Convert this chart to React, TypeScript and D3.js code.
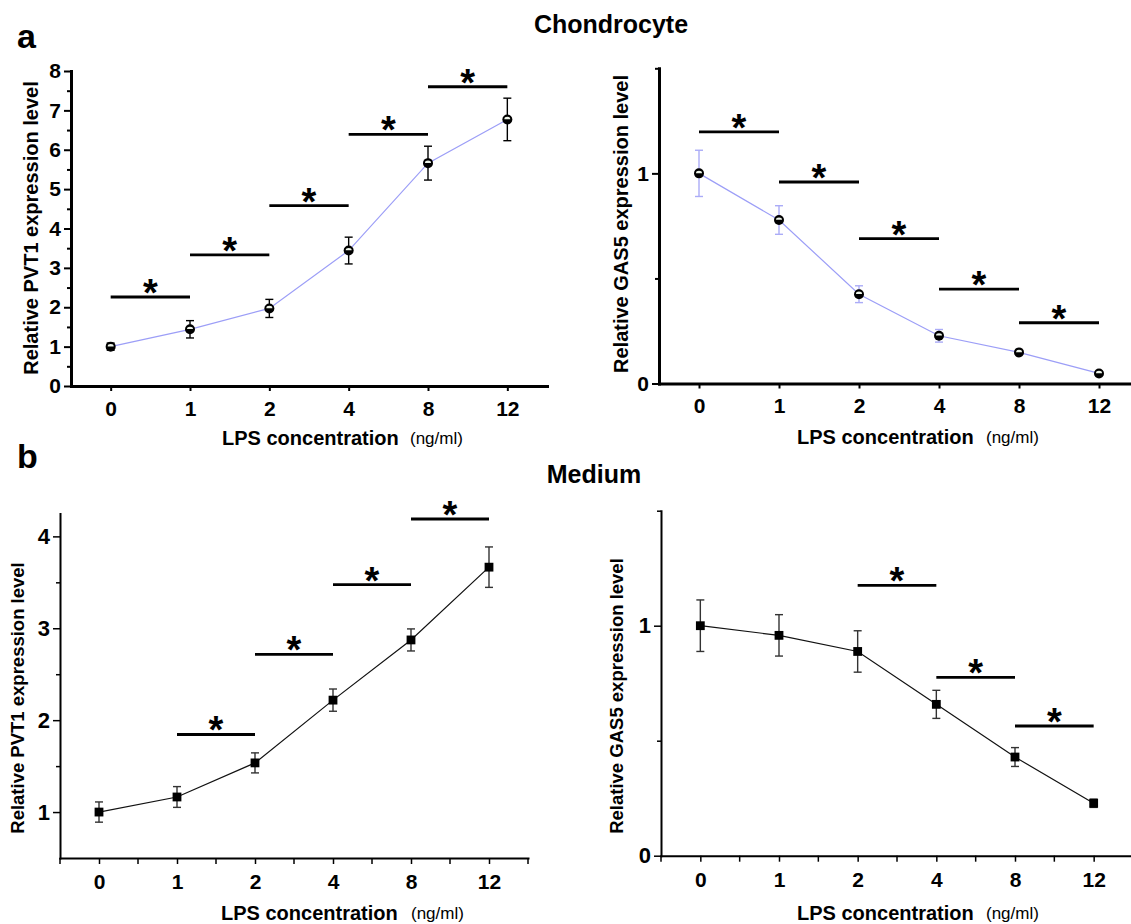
import React, { useEffect, useRef } from 'react';
import * as d3 from 'd3';

// LPS doses (ng/ml)
const concentrations = ['0', '1', '2', '4', '8', '12'];

// a: chondrocyte
const chondroPvt1 = [1.0, 1.44, 1.97, 3.44, 5.66, 6.77];
const chondroPvt1Err = [0.09, 0.22, 0.23, 0.34, 0.43, 0.54];
const chondroGas5 = [1.0, 0.778, 0.425, 0.227, 0.148, 0.048];
const chondroGas5Err = [0.11, 0.068, 0.04, 0.03, 0.008, 0.006];

// b: medium
const mediumPvt1 = [1.0, 1.164, 1.535, 2.218, 2.873, 3.665];
const mediumPvt1Err = [0.11, 0.113, 0.109, 0.121, 0.12, 0.22];
const mediumGas5 = [1.0, 0.958, 0.888, 0.658, 0.429, 0.228];
const mediumGas5Err = [0.112, 0.09, 0.09, 0.061, 0.041, 0.018];

// significance brackets: [from index, to index, level]
const chondroPvt1Sig = [[0, 1, 2.26], [1, 2, 3.33], [2, 3, 4.58], [3, 4, 6.39], [4, 5, 7.6]];
const chondroGas5Sig = [[0, 1, 1.197], [1, 2, 0.959], [2, 3, 0.689], [3, 4, 0.449], [4, 5, 0.289]];
const mediumPvt1Sig = [[1, 2, 1.844], [2, 3, 2.716], [3, 4, 3.476], [4, 5, 4.189]];
const mediumGas5Sig = [[2, 3, 1.175], [3, 4, 0.775], [4, 5, 0.564]];

// tick values
const chondroPvt1Ticks = [0, 1, 2, 3, 4, 5, 6, 7, 8];
const chondroPvt1Minor = [0.5, 1.5, 2.5, 3.5, 4.5, 5.5, 6.5, 7.5];
const gas5Ticks = [0, 1];
const gas5Minor = [0.5, 1.5];
const mediumPvt1Ticks = [1, 2, 3, 4];
const mediumPvt1Minor = [1.5, 2.5, 3.5];

const FONT = "'Liberation Sans', Arial, Helvetica, sans-serif";

const panels = [
  {
    values: chondroPvt1, errs: chondroPvt1Err, sig: chondroPvt1Sig,
    yTicks: chondroPvt1Ticks, yMinor: chondroPvt1Minor, domain: [0, 8],
    x0: 71, x1: 547, yTop: 71, yBot: 386,
    axisW: 3, tickW: 2, yTickFont: 21, xTickLen: 5, xPad: 10, xMinor: false,
    marker: 'circle', lineColor: '#9c9ef7', errColor: '#000',
    yLabel: 'Relative PVT1 expression level', yLabelX: 31, yLabelY: 228, yLabelFont: 20,
    xTitleX: 222, unitX: 410, xTitleY: 445,
  },
  {
    values: chondroGas5, errs: chondroGas5Err, sig: chondroGas5Sig,
    yTicks: gas5Ticks, yMinor: gas5Minor, domain: [0, 1.5],
    x0: 659, x1: 1139, yTop: 68.3, yBot: 383.5,
    axisW: 3, tickW: 2, yTickFont: 21, xTickLen: 5, xPad: 10, xMinor: false,
    marker: 'circle', lineColor: '#9c9ef7', errColor: '#abacf7',
    yLabel: 'Relative GAS5 expression level', yLabelX: 621, yLabelY: 224, yLabelFont: 20,
    xTitleX: 797, unitX: 986, xTitleY: 444,
  },
  {
    values: mediumPvt1, errs: mediumPvt1Err, sig: mediumPvt1Sig,
    yTicks: mediumPvt1Ticks, yMinor: mediumPvt1Minor, domain: [0.5, 4.25],
    x0: 60, x1: 528, yTop: 513.4, yBot: 858,
    axisW: 2, tickW: 1.5, yTickFont: 22, xTickLen: 6, xPad: 10.5, xMinor: true,
    marker: 'square', lineColor: '#111', errColor: '#333',
    yLabel: 'Relative PVT1 expression level', yLabelX: 17, yLabelY: 698, yLabelFont: 18.5,
    xTitleX: 221, unitX: 411, xTitleY: 920,
  },
  {
    values: mediumGas5, errs: mediumGas5Err, sig: mediumGas5Sig,
    yTicks: gas5Ticks, yMinor: gas5Minor, domain: [0, 1.5],
    x0: 661, x1: 1133, yTop: 510.7, yBot: 855.7,
    axisW: 2, tickW: 1.5, yTickFont: 22, xTickLen: 6, xPad: 10.5, xMinor: true,
    marker: 'square', lineColor: '#111', errColor: '#333',
    yLabel: 'Relative GAS5 expression level', yLabelX: 616, yLabelY: 696, yLabelFont: 18.5,
    xTitleX: 797, unitX: 986, xTitleY: 920,
  },
];

function drawPanel(svg, p) {
  const x = d3.scalePoint().domain(concentrations).range([p.x0, p.x1]).padding(0.5);
  const y = d3.scaleLinear().domain(p.domain).range([p.yBot, p.yTop]);
  const g = svg.append('g');

  // minor y ticks
  const minor = g.append('g').attr('transform', `translate(${p.x0},0)`)
    .call(d3.axisLeft(y).tickValues(p.yMinor).tickSize(4).tickSizeOuter(0).tickFormat(() => ''));
  minor.select('.domain').remove();
  minor.selectAll('line').attr('stroke', '#000').attr('stroke-width', p.tickW);

  const yAxis = g.append('g').attr('transform', `translate(${p.x0},0)`)
    .call(d3.axisLeft(y).tickValues(p.yTicks).tickSize(7).tickPadding(3).tickSizeOuter(0).tickFormat(d3.format('d')));
  yAxis.select('.domain').attr('stroke-width', p.axisW).attr('stroke-linecap', 'square');
  yAxis.selectAll('.tick line').attr('stroke-width', p.tickW);
  yAxis.selectAll('.tick text')
    .attr('font-size', p.yTickFont).attr('font-weight', 'bold')
    .attr('font-family', FONT).attr('fill', '#000');

  const xAxis = g.append('g').attr('transform', `translate(0,${p.yBot})`)
    .call(d3.axisBottom(x).tickSize(p.xTickLen).tickPadding(p.xPad).tickSizeOuter(0));
  xAxis.select('.domain').attr('stroke-width', p.axisW).attr('stroke-linecap', 'square');
  xAxis.selectAll('.tick line').attr('stroke-width', p.tickW);
  xAxis.selectAll('.tick text')
    .attr('font-size', 21).attr('font-weight', 'bold')
    .attr('font-family', FONT).attr('fill', '#000');

  if (p.xMinor) {
    g.selectAll('.xminor')
      .data(d3.range(concentrations.length + 1))
      .enter()
      .append('line')
      .attr('x1', i => p.x0 + i * x.step())
      .attr('x2', i => p.x0 + i * x.step())
      .attr('y1', p.yBot)
      .attr('y2', p.yBot + p.xTickLen)
      .attr('stroke', '#000')
      .attr('stroke-width', p.tickW);
  }

  // axis titles
  g.append('text')
    .attr('transform', `translate(${p.yLabelX},${p.yLabelY}) rotate(-90)`)
    .attr('text-anchor', 'middle')
    .attr('dominant-baseline', 'central')
    .attr('font-family', FONT).attr('font-weight', 'bold')
    .attr('font-size', p.yLabelFont)
    .text(p.yLabel);

  g.append('text')
    .attr('x', p.xTitleX).attr('y', p.xTitleY)
    .attr('font-family', FONT).attr('font-weight', 'bold').attr('font-size', 20)
    .text('LPS concentration');
  g.append('text')
    .attr('x', p.unitX).attr('y', p.xTitleY - 1)
    .attr('font-family', FONT).attr('font-size', 17)
    .text('(ng/ml)');

  // connecting line
  const line = d3.line()
    .x((d, i) => x(concentrations[i]))
    .y(d => y(d));
  g.append('path')
    .datum(p.values)
    .attr('d', line)
    .attr('fill', 'none')
    .attr('stroke', p.lineColor)
    .attr('stroke-width', 1.2);

  // error bars
  const eb = g.selectAll('.eb')
    .data(p.values)
    .enter()
    .append('g')
    .attr('stroke', p.errColor)
    .attr('stroke-width', 1.4);
  eb.append('line')
    .attr('x1', (d, i) => x(concentrations[i]))
    .attr('x2', (d, i) => x(concentrations[i]))
    .attr('y1', (d, i) => y(d - p.errs[i]))
    .attr('y2', (d, i) => y(d + p.errs[i]));
  [-1, 1].forEach(s => {
    eb.append('line')
      .attr('x1', (d, i) => x(concentrations[i]) - 4)
      .attr('x2', (d, i) => x(concentrations[i]) + 4)
      .attr('y1', (d, i) => y(d + s * p.errs[i]))
      .attr('y2', (d, i) => y(d + s * p.errs[i]));
  });

  // markers
  if (p.marker === 'circle') {
    const m = g.selectAll('.mk')
      .data(p.values)
      .enter()
      .append('g')
      .attr('transform', (d, i) => `translate(${x(concentrations[i])},${y(d)})`);
    m.append('circle').attr('r', 5).attr('fill', '#000');
    m.append('path')
      .attr('d', 'M-3,0 A3,2.4 0 0 1 3,0 Z')
      .attr('transform', 'translate(0,-0.2)')
      .attr('fill', '#eef5ea');
  } else {
    g.selectAll('.mk')
      .data(p.values)
      .enter()
      .append('rect')
      .attr('x', (d, i) => x(concentrations[i]) - 4.4)
      .attr('y', d => y(d) - 4.4)
      .attr('width', 8.8)
      .attr('height', 8.8)
      .attr('fill', '#000');
  }

  // significance brackets
  const sg = g.selectAll('.sig')
    .data(p.sig)
    .enter()
    .append('g');
  sg.append('line')
    .attr('x1', d => x(concentrations[d[0]]))
    .attr('x2', d => x(concentrations[d[1]]))
    .attr('y1', d => y(d[2]))
    .attr('y2', d => y(d[2]))
    .attr('stroke', '#000')
    .attr('stroke-width', 2.8);
  sg.append('text')
    .attr('x', d => (x(concentrations[d[0]]) + x(concentrations[d[1]])) / 2)
    .attr('y', d => y(d[2]) + 9)
    .attr('text-anchor', 'middle')
    .attr('font-family', FONT).attr('font-weight', 'bold')
    .attr('font-size', 38)
    .text('*');
}

const App = () => {
  const svgRef = useRef(null);

  useEffect(() => {
    const svg = d3.select(svgRef.current);
    svg.selectAll('*').remove();

    svg.append('rect').attr('width', 1131).attr('height', 924).attr('fill', '#fff');

    const heads = [
      { t: 'a', x: 17, y: 48, size: 34, anchor: 'start' },
      { t: 'Chondrocyte', x: 611, y: 33, size: 25, anchor: 'middle' },
      { t: 'b', x: 17, y: 468, size: 34, anchor: 'start' },
      { t: 'Medium', x: 594, y: 483, size: 25, anchor: 'middle' },
    ];
    svg.selectAll('.head')
      .data(heads)
      .enter()
      .append('text')
      .attr('x', d => d.x)
      .attr('y', d => d.y)
      .attr('text-anchor', d => d.anchor)
      .attr('font-family', FONT)
      .attr('font-weight', 'bold')
      .attr('font-size', d => d.size)
      .text(d => d.t);

    panels.forEach(p => drawPanel(svg, p));
  }, []);

  return (
    <div style={{ position: 'absolute', left: 0, top: 0 }}>
      <svg ref={svgRef} width={1131} height={924}></svg>
    </div>
  );
};

export default App;
